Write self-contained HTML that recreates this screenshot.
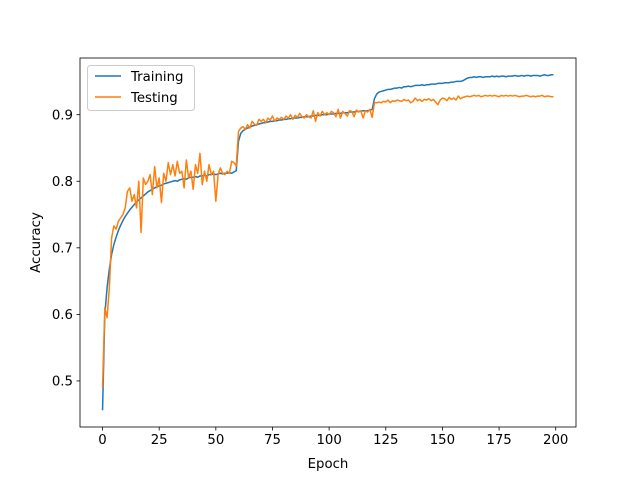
<!DOCTYPE html>
<html><head><meta charset="utf-8"><style>
body{margin:0;background:#fff}
svg{display:block;font-family:"DejaVu Sans","Liberation Sans",sans-serif}
</style></head><body>
<svg id="chart" width="640" height="480">
<rect x="0" y="0" width="640" height="480" fill="#fff"/>
<g id="plot"></g>
</svg>
<script>
const epochs = Array.from({length:200},(_, i)=>i);
const training = [
.456,.600,.640,.668,.690,.705,.716,.726,.734,.741,
.747,.752,.757,.761,.765,.769,.772,.775,.778,.781,
.784,.786,.788,.790,.792,.793,.794,.796,.797,.798,
.799,.800,.801,.800,.802,.803,.804,.803,.805,.806,
.806,.807,.806,.808,.808,.809,.808,.810,.810,.811,
.810,.811,.812,.811,.812,.812,.813,.812,.814,.816,
.860,.872,.876,.878,.880,.881,.883,.884,.885,.886,
.887,.888,.888,.889,.890,.890,.891,.891,.892,.892,
.893,.893,.894,.894,.895,.895,.895,.896,.896,.897,
.897,.897,.898,.898,.899,.899,.899,.900,.900,.900,
.901,.901,.901,.902,.902,.902,.903,.903,.903,.904,
.904,.904,.905,.905,.905,.906,.906,.906,.907,.908,
.924,.931,.934,.935,.936,.937,.938,.938,.939,.940,
.940,.941,.940,.942,.942,.943,.942,.943,.944,.944,
.944,.945,.944,.945,.945,.946,.946,.946,.947,.947,
.947,.948,.948,.948,.949,.949,.950,.950,.950,.951,
.953,.955,.956,.956,.957,.956,.957,.957,.956,.957,
.957,.957,.958,.957,.958,.957,.958,.958,.957,.958,
.958,.958,.959,.958,.958,.959,.958,.959,.959,.958,
.959,.959,.959,.958,.959,.960,.959,.959,.960,.960];
const testing = [
.490,.610,.595,.640,.715,.733,.728,.740,.745,.750,
.760,.785,.790,.770,.780,.760,.800,.723,.805,.795,
.800,.810,.780,.822,.790,.805,.768,.812,.800,.828,
.810,.825,.808,.830,.812,.815,.790,.832,.805,.815,
.788,.825,.812,.842,.795,.815,.800,.825,.810,.815,
.770,.810,.820,.812,.810,.815,.812,.830,.828,.823,
.875,.880,.882,.878,.885,.880,.890,.886,.884,.893,
.890,.893,.888,.895,.892,.898,.890,.895,.893,.896,
.893,.898,.895,.900,.893,.899,.896,.902,.897,.895,
.900,.897,.895,.906,.890,.903,.898,.905,.900,.903,
.900,.905,.903,.897,.908,.895,.905,.902,.898,.906,
.905,.897,.907,.904,.906,.895,.906,.904,.908,.896,
.918,.918,.919,.918,.920,.919,.922,.918,.921,.920,
.922,.921,.920,.923,.921,.922,.918,.920,.925,.921,
.923,.920,.923,.922,.924,.921,.923,.919,.915,.922,
.925,.924,.921,.926,.923,.925,.922,.928,.924,.926,
.927,.928,.927,.928,.929,.928,.929,.927,.928,.929,
.928,.929,.928,.929,.928,.927,.929,.928,.929,.928,
.929,.928,.929,.928,.927,.928,.928,.929,.928,.927,
.928,.927,.928,.928,.929,.927,.928,.928,.927,.927];
const xTicks = [0,25,50,75,100,125,150,175,200];
const yTicks = [0.5,0.6,0.7,0.8,0.9];
const yTickLabels = ["0.5","0.6","0.7","0.8","0.9"];
const seriesNames = ["Training","Testing"];

const L=80,R=576,T=58,B=427;
const xMin=-9.95,xMax=208.95,yMin=0.4308,yMax=0.9852;
const xs=v=>L+(v-xMin)/(xMax-xMin)*(R-L);
const ys=v=>B-(v-yMin)/(yMax-yMin)*(B-T);
const NS="http://www.w3.org/2000/svg";
const g=document.getElementById('plot');
function mk(tag,attrs,parent){const e=document.createElementNS(NS,tag);for(const k in attrs)e.setAttribute(k,attrs[k]);(parent||g).appendChild(e);return e;}

function line(vals,color,name){
  const d=vals.map((v,i)=>(i?'L':'M')+xs(epochs[i]).toFixed(2)+','+ys(v).toFixed(2)).join('');
  const p=mk('path',{d:d,fill:'none',stroke:color,'stroke-width':1.5,'stroke-linejoin':'round'});
  
  
}
line(training,'#1f77b4','training-line');
line(testing,'#ff7f0e','testing-line');

const frame=mk('rect',{x:L,y:T,width:R-L,height:B-T,fill:'none',stroke:'#000','stroke-width':0.8});



xTicks.forEach(t=>{
  const x=xs(t);
  mk('line',{x1:x,x2:x,y1:B,y2:B+3.5,stroke:'#000','stroke-width':0.8});
  const tx=mk('text',{x:x,y:B+17,'text-anchor':'middle','font-size':'13.3px',fill:'#000'});
  tx.textContent=String(t);
  
  
});
yTicks.forEach((t,i)=>{
  const y=ys(t);
  mk('line',{x1:L-3.5,x2:L,y1:y,y2:y,stroke:'#000','stroke-width':0.8});
  const tx=mk('text',{x:L-7,y:y+4.8,'text-anchor':'end','font-size':'13.3px',fill:'#000'});
  tx.textContent=yTickLabels[i];
  
  
});
const xl=mk('text',{x:(L+R)/2,y:468,'text-anchor':'middle','font-size':'13.3px'});
xl.textContent='Epoch';


const yl=mk('text',{x:0,y:0,'text-anchor':'middle','font-size':'13.3px',transform:'translate(40,'+((T+B)/2)+') rotate(-90)'});
yl.textContent='Accuracy';



const lg=mk('g',{});


mk('rect',{x:87.5,y:65.5,width:107,height:45,rx:3,fill:'#fff',stroke:'#ccc','stroke-width':1,'fill-opacity':0.8},lg);
const colors=['#1f77b4','#ff7f0e'];
seriesNames.forEach((n,i)=>{
  const y=76+i*21;
  const e=mk('g',{},lg);
  
  
  mk('line',{x1:95,x2:121,y1:y,y2:y,stroke:colors[i],'stroke-width':1.5},e);
  const t=mk('text',{x:131,y:y+4.8,'font-size':'13.3px'},e);
  t.textContent=n;
});
</script>
</body></html>
